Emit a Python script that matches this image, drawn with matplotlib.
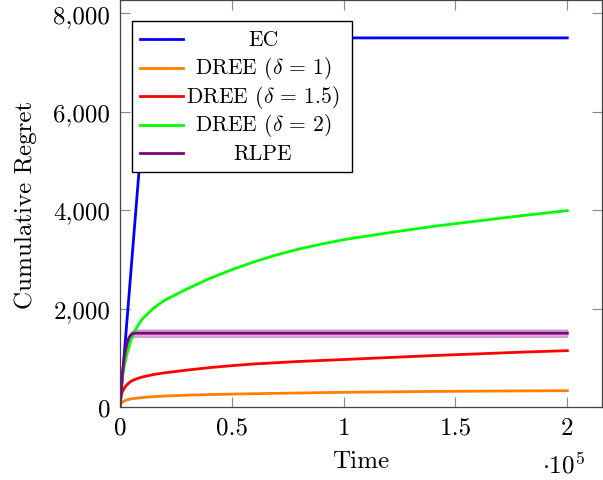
import matplotlib
matplotlib.use('Agg')
import matplotlib.pyplot as plt
from matplotlib.lines import Line2D
from matplotlib.patches import Rectangle
from matplotlib.ticker import FixedLocator, FuncFormatter

plt.rcParams['font.family'] = 'serif'
plt.rcParams['font.serif'] = ['cmr10']
plt.rcParams['mathtext.fontset'] = 'cm'
plt.rcParams['axes.formatter.use_mathtext'] = True

# values
ec_t = [0, 13300, 200000]
ec_regret = [0, 7500, 7500]

dree_t = [0, 500, 1000, 2000, 3000, 5000, 7500, 10000, 15000, 20000,
          30000, 40000, 50000, 60000, 70000, 80000, 90000, 100000,
          120000, 140000, 160000, 180000, 200000]
dree_1 = [0, 70, 95, 125, 145, 165, 180, 192, 210, 223,
          240, 252, 262, 270, 278, 285, 292, 298,
          308, 316, 322, 327, 331]
dree_15 = [0, 230, 300, 390, 450, 525, 575, 610, 660, 695,
           750, 800, 840, 875, 900, 925, 945, 965,
           1005, 1045, 1080, 1115, 1145]
dree_2 = [0, 380, 580, 850, 1060, 1380, 1620, 1790, 2010, 2170,
          2400, 2610, 2790, 2950, 3090, 3210, 3310, 3400,
          3540, 3670, 3780, 3890, 3990]

rlpe_t = [0, 1000, 2000, 3000, 4000, 5000, 6000, 7000, 200000]
rlpe = [0, 650, 1050, 1280, 1410, 1470, 1495, 1500, 1500]
rlpe_low = [0, 615, 1000, 1215, 1340, 1395, 1420, 1425, 1425]
rlpe_high = [0, 685, 1100, 1345, 1480, 1545, 1570, 1575, 1575]

labels = ['EC', r'DREE ($\delta$ = 1)', r'DREE ($\delta$ = 1.5)',
          r'DREE ($\delta$ = 2)', 'RLPE']
colors = ['#0000ff', '#ff8000', '#ff0000', '#00ff00', '#800080']

yticks = [0, 2000, 4000, 6000, 8000]
xticks = [0, 50000, 100000, 150000, 200000]
xtick_labels = ['0', '0.5', '1', '1.5', '2']

fig = plt.figure(figsize=(6.03, 4.81), dpi=100)
ax = fig.add_axes([120 / 603, 73 / 481, 482 / 603, 407 / 481])

lw = 2.0
ax.plot(ec_t, ec_regret, color=colors[0], lw=lw)
ax.plot(dree_t, dree_1, color=colors[1], lw=lw)
ax.plot(dree_t, dree_15, color=colors[2], lw=lw)
ax.plot(dree_t, dree_2, color=colors[3], lw=lw)
ax.fill_between(rlpe_t, rlpe_low, rlpe_high, color=colors[4], alpha=0.3,
                lw=0.8)
ax.plot(rlpe_t, rlpe, color=colors[4], lw=lw)

ax.set_xlim(0, 215500)
ax.set_ylim(0, 8270)

ax.xaxis.set_major_locator(FixedLocator(xticks))
ax.xaxis.set_major_formatter(
    FuncFormatter(lambda v, p: xtick_labels[xticks.index(v)]))
ax.yaxis.set_major_locator(FixedLocator(yticks))
ax.yaxis.set_major_formatter(FuncFormatter(lambda v, p: f'{v:,.0f}'))

ax.tick_params(direction='in', length=7, width=0.8, color='#888888',
               top=True, right=True, labelsize=18, pad=7)
for s in ax.spines.values():
    s.set_color('#444444')
    s.set_linewidth(0.9)

ax.set_xlabel('Time', fontsize=18, labelpad=8)
ax.set_ylabel('Cumulative Regret', fontsize=18, labelpad=12)
ax.text(0.919, -0.14, r'$\cdot 10^5$', transform=ax.transAxes,
        fontsize=18, ha='center', va='center')

# legend drawn like the pgfplots one: centred entries in a plain box
box = Rectangle((0.0243, 0.5767), 0.4577, 0.3723, transform=ax.transAxes,
                facecolor='white', edgecolor='black', lw=1.0, zorder=5)
ax.add_patch(box)
rows = [0.904, 0.833, 0.764, 0.693, 0.624]
for lab, col, yr in zip(labels, colors, rows):
    ax.add_line(Line2D([0.0415, 0.13], [yr, yr], transform=ax.transAxes,
                       color=col, lw=lw, zorder=6))
    ax.text(0.297, yr, lab, transform=ax.transAxes, fontsize=15.5,
            ha='center', va='center', zorder=6)

fig.savefig('out.png', dpi=100)
